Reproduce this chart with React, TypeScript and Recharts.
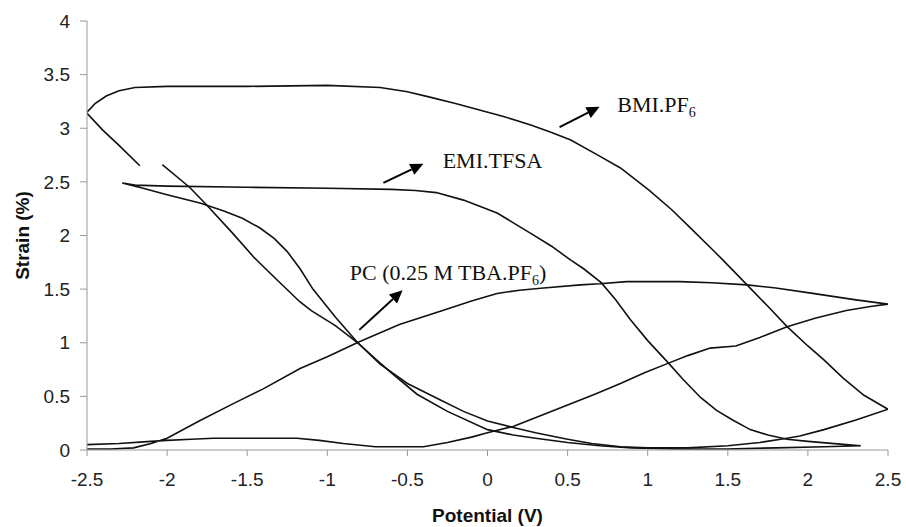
import { LineChart, Line, XAxis, YAxis, ReferenceLine, ReferenceDot } from 'recharts';

// BMI.PF6 loop (upper branch, return branch with a small data gap)
const bmiPoints = [
  { x: -2.5, y: 3.15 }, { x: -2.45, y: 3.23 }, { x: -2.38, y: 3.3 }, { x: -2.3, y: 3.35 },
  { x: -2.2, y: 3.38 }, { x: -2.0, y: 3.39 }, { x: -1.5, y: 3.39 }, { x: -1.0, y: 3.4 },
  { x: -0.67, y: 3.38 }, { x: -0.5, y: 3.34 }, { x: -0.36, y: 3.29 }, { x: -0.2, y: 3.23 },
  { x: -0.05, y: 3.17 }, { x: 0.1, y: 3.11 }, { x: 0.27, y: 3.03 }, { x: 0.4, y: 2.96 },
  { x: 0.52, y: 2.89 }, { x: 0.7, y: 2.74 }, { x: 0.83, y: 2.63 }, { x: 1.01, y: 2.42 },
  { x: 1.15, y: 2.24 }, { x: 1.26, y: 2.08 }, { x: 1.41, y: 1.86 }, { x: 1.47, y: 1.77 },
  { x: 1.62, y: 1.54 }, { x: 1.75, y: 1.34 }, { x: 1.87, y: 1.15 }, { x: 2.0, y: 0.97 },
  { x: 2.1, y: 0.84 }, { x: 2.22, y: 0.67 }, { x: 2.35, y: 0.51 }, { x: 2.5, y: 0.38 },
  { x: 2.3, y: 0.28 }, { x: 2.1, y: 0.19 }, { x: 1.95, y: 0.13 }, { x: 1.87, y: 0.11 },
  { x: 1.7, y: 0.07 }, { x: 1.5, y: 0.04 }, { x: 1.25, y: 0.02 }, { x: 1.0, y: 0.02 },
  { x: 0.83, y: 0.03 }, { x: 0.65, y: 0.06 }, { x: 0.5, y: 0.1 }, { x: 0.3, y: 0.16 },
  { x: 0.16, y: 0.21 }, { x: 0.0, y: 0.27 }, { x: -0.15, y: 0.36 }, { x: -0.3, y: 0.47 },
  { x: -0.5, y: 0.62 }, { x: -0.67, y: 0.8 }, { x: -0.81, y: 1.0 }, { x: -0.95, y: 1.16 },
  { x: -1.1, y: 1.3 }, { x: -1.17, y: 1.38 }, { x: -1.31, y: 1.58 }, { x: -1.46, y: 1.8 },
  { x: -1.59, y: 2.02 }, { x: -1.75, y: 2.28 }, { x: -1.86, y: 2.45 }, { x: -2.03, y: 2.66 },
  { x: -2.1, y: null }, { x: -2.17, y: 2.65 }, { x: -2.3, y: 2.84 }, { x: -2.4, y: 2.98 },
  { x: -2.5, y: 3.14 },
];

// EMI.TFSA loop
const emiPoints = [
  { x: -2.28, y: 2.49 }, { x: -2.2, y: 2.47 }, { x: -2.0, y: 2.46 }, { x: -1.5, y: 2.45 },
  { x: -1.0, y: 2.44 }, { x: -0.6, y: 2.43 }, { x: -0.45, y: 2.42 }, { x: -0.32, y: 2.4 },
  { x: -0.15, y: 2.33 }, { x: 0.06, y: 2.21 }, { x: 0.27, y: 2.02 }, { x: 0.4, y: 1.9 },
  { x: 0.52, y: 1.77 }, { x: 0.6, y: 1.69 }, { x: 0.71, y: 1.56 }, { x: 0.8, y: 1.4 },
  { x: 0.89, y: 1.22 }, { x: 1.0, y: 1.02 }, { x: 1.13, y: 0.81 }, { x: 1.22, y: 0.66 },
  { x: 1.33, y: 0.49 }, { x: 1.43, y: 0.37 }, { x: 1.53, y: 0.28 }, { x: 1.64, y: 0.19 },
  { x: 1.75, y: 0.14 }, { x: 1.87, y: 0.1 }, { x: 2.0, y: 0.08 }, { x: 2.24, y: 0.05 },
  { x: 2.33, y: 0.04 }, { x: 2.1, y: 0.03 }, { x: 1.8, y: 0.02 }, { x: 1.5, y: 0.01 },
  { x: 1.2, y: 0.01 }, { x: 0.9, y: 0.02 }, { x: 0.7, y: 0.04 }, { x: 0.5, y: 0.07 },
  { x: 0.3, y: 0.11 }, { x: 0.16, y: 0.14 }, { x: 0.0, y: 0.19 }, { x: -0.25, y: 0.36 },
  { x: -0.44, y: 0.52 }, { x: -0.6, y: 0.72 }, { x: -0.7, y: 0.85 }, { x: -0.81, y: 1.0 },
  { x: -0.95, y: 1.24 }, { x: -1.09, y: 1.5 }, { x: -1.17, y: 1.69 }, { x: -1.25, y: 1.85 },
  { x: -1.33, y: 1.97 }, { x: -1.42, y: 2.07 }, { x: -1.53, y: 2.16 }, { x: -1.65, y: 2.23 },
  { x: -1.79, y: 2.3 }, { x: -2.0, y: 2.38 }, { x: -2.15, y: 2.44 }, { x: -2.28, y: 2.49 },
];

// PC (0.25 M TBA.PF6) loop
const pcPoints = [
  { x: -2.5, y: 0.05 }, { x: -2.3, y: 0.06 }, { x: -2.1, y: 0.08 }, { x: -2.0, y: 0.09 },
  { x: -1.85, y: 0.1 }, { x: -1.71, y: 0.11 }, { x: -1.19, y: 0.11 }, { x: -1.05, y: 0.09 },
  { x: -0.9, y: 0.06 }, { x: -0.7, y: 0.03 }, { x: -0.5, y: 0.03 }, { x: -0.4, y: 0.03 },
  { x: -0.25, y: 0.07 }, { x: -0.1, y: 0.12 }, { x: 0.0, y: 0.16 }, { x: 0.16, y: 0.22 },
  { x: 0.33, y: 0.32 }, { x: 0.5, y: 0.42 }, { x: 0.67, y: 0.52 }, { x: 0.83, y: 0.62 },
  { x: 0.98, y: 0.72 }, { x: 1.13, y: 0.81 }, { x: 1.25, y: 0.88 }, { x: 1.39, y: 0.95 },
  { x: 1.55, y: 0.97 }, { x: 1.7, y: 1.05 }, { x: 1.87, y: 1.15 }, { x: 2.05, y: 1.23 },
  { x: 2.24, y: 1.3 }, { x: 2.4, y: 1.34 }, { x: 2.5, y: 1.36 }, { x: 2.3, y: 1.4 },
  { x: 2.03, y: 1.46 }, { x: 1.8, y: 1.51 }, { x: 1.62, y: 1.54 }, { x: 1.4, y: 1.56 },
  { x: 1.2, y: 1.57 }, { x: 0.87, y: 1.57 }, { x: 0.7, y: 1.55 }, { x: 0.58, y: 1.54 },
  { x: 0.35, y: 1.51 }, { x: 0.2, y: 1.49 }, { x: 0.06, y: 1.46 }, { x: -0.1, y: 1.39 },
  { x: -0.28, y: 1.3 }, { x: -0.55, y: 1.17 }, { x: -0.8, y: 1.01 }, { x: -1.0, y: 0.87 },
  { x: -1.17, y: 0.76 }, { x: -1.4, y: 0.57 }, { x: -1.59, y: 0.43 }, { x: -1.8, y: 0.27 },
  { x: -2.0, y: 0.11 }, { x: -2.1, y: 0.06 }, { x: -2.21, y: 0.02 }, { x: -2.35, y: 0.01 },
  { x: -2.5, y: 0.01 },
];

const xTicks = [-2.5, -2, -1.5, -1, -0.5, 0, 0.5, 1, 1.5, 2, 2.5];
const yTicks = [0, 0.5, 1, 1.5, 2, 2.5, 3, 3.5, 4];

// arrow tail, arrow head and label anchor, in data units
const notes = [
  { text: 'BMI.PF', sub: '6', from: { x: 0.45, y: 3.01 }, to: { x: 0.7, y: 3.2 }, at: { x: 0.81, y: 3.22 } },
  { text: 'EMI.TFSA', sub: '', from: { x: -0.65, y: 2.49 }, to: { x: -0.4, y: 2.67 }, at: { x: -0.28, y: 2.7 } },
  { text: 'PC (0.25 M TBA.PF', sub: '6', tail: ')', from: { x: -0.8, y: 1.12 }, to: { x: -0.53, y: 1.49 }, at: { x: -0.86, y: 1.66 } },
];

const serif = '"Liberation Serif", "Times New Roman", serif';
const sans = '"Liberation Sans", Arial, sans-serif';

function Arrow(props: any) {
  const { x1, y1, x2, y2 } = props;
  const a = Math.atan2(y2 - y1, x2 - x1);
  const len = 13;
  const half = 6;
  const bx = x2 - len * Math.cos(a);
  const by = y2 - len * Math.sin(a);
  const px = -Math.sin(a) * half;
  const py = Math.cos(a) * half;
  return (
    <g>
      <line x1={x1} y1={y1} x2={bx} y2={by} stroke="#000" strokeWidth={2} />
      <polygon points={`${x2},${y2} ${bx + px},${by + py} ${bx - px},${by - py}`} fill="#000" />
    </g>
  );
}

function noteLabel(n: any) {
  return (p: any) => (
    <text x={p.cx} y={p.cy} dy="0.35em" fontFamily={serif} fontSize={22} fill="#111">
      <tspan>{n.text}</tspan>
      {n.sub ? <tspan fontSize={14} dy={5}>{n.sub}</tspan> : null}
      {n.tail ? <tspan dy={-5}>{n.tail}</tspan> : null}
    </text>
  );
}

export default function App() {
  return (
    <div style={{ position: 'absolute', left: 0, top: 0, background: '#fff' }}>
      <LineChart width={906} height={527} margin={{ top: 21, right: 18, bottom: 5, left: 0 }}>
        <XAxis
          dataKey="x"
          type="number"
          domain={[-2.5, 2.5]}
          ticks={xTicks}
          allowDataOverflow
          stroke="#999"
          tickSize={6}
          tickMargin={17}
          height={72}
          tick={{ fill: '#222', fontSize: 19, fontFamily: sans }}
          label={{ value: 'Potential (V)', position: 'insideBottom', offset: 0, fill: '#111', fontSize: 19, fontWeight: 'bold', fontFamily: sans }}
        />
        <YAxis
          dataKey="y"
          type="number"
          domain={[0, 4]}
          ticks={yTicks}
          allowDataOverflow
          stroke="#999"
          tickSize={7}
          tickMargin={10}
          width={87}
          tick={{ fill: '#222', fontSize: 19, fontFamily: sans }}
          label={{ value: 'Strain (%)', angle: -90, position: 'insideLeft', offset: 22, fill: '#111', fontSize: 19, fontWeight: 'bold', fontFamily: sans, style: { textAnchor: 'middle' } }}
        />
        <Line data={bmiPoints} dataKey="y" type="linear" stroke="#111" strokeWidth={1.6} dot={false} isAnimationActive={false} />
        <Line data={emiPoints} dataKey="y" type="linear" stroke="#111" strokeWidth={1.6} dot={false} isAnimationActive={false} />
        <Line data={pcPoints} dataKey="y" type="linear" stroke="#111" strokeWidth={1.6} dot={false} isAnimationActive={false} />
        {notes.map((n, i) => (
          <ReferenceLine key={'a' + i} segment={[n.from, n.to]} shape={Arrow} />
        ))}
        {notes.map((n, i) => (
          <ReferenceDot key={'t' + i} x={n.at.x} y={n.at.y} r={0} shape={noteLabel(n)} />
        ))}
      </LineChart>
    </div>
  );
}
